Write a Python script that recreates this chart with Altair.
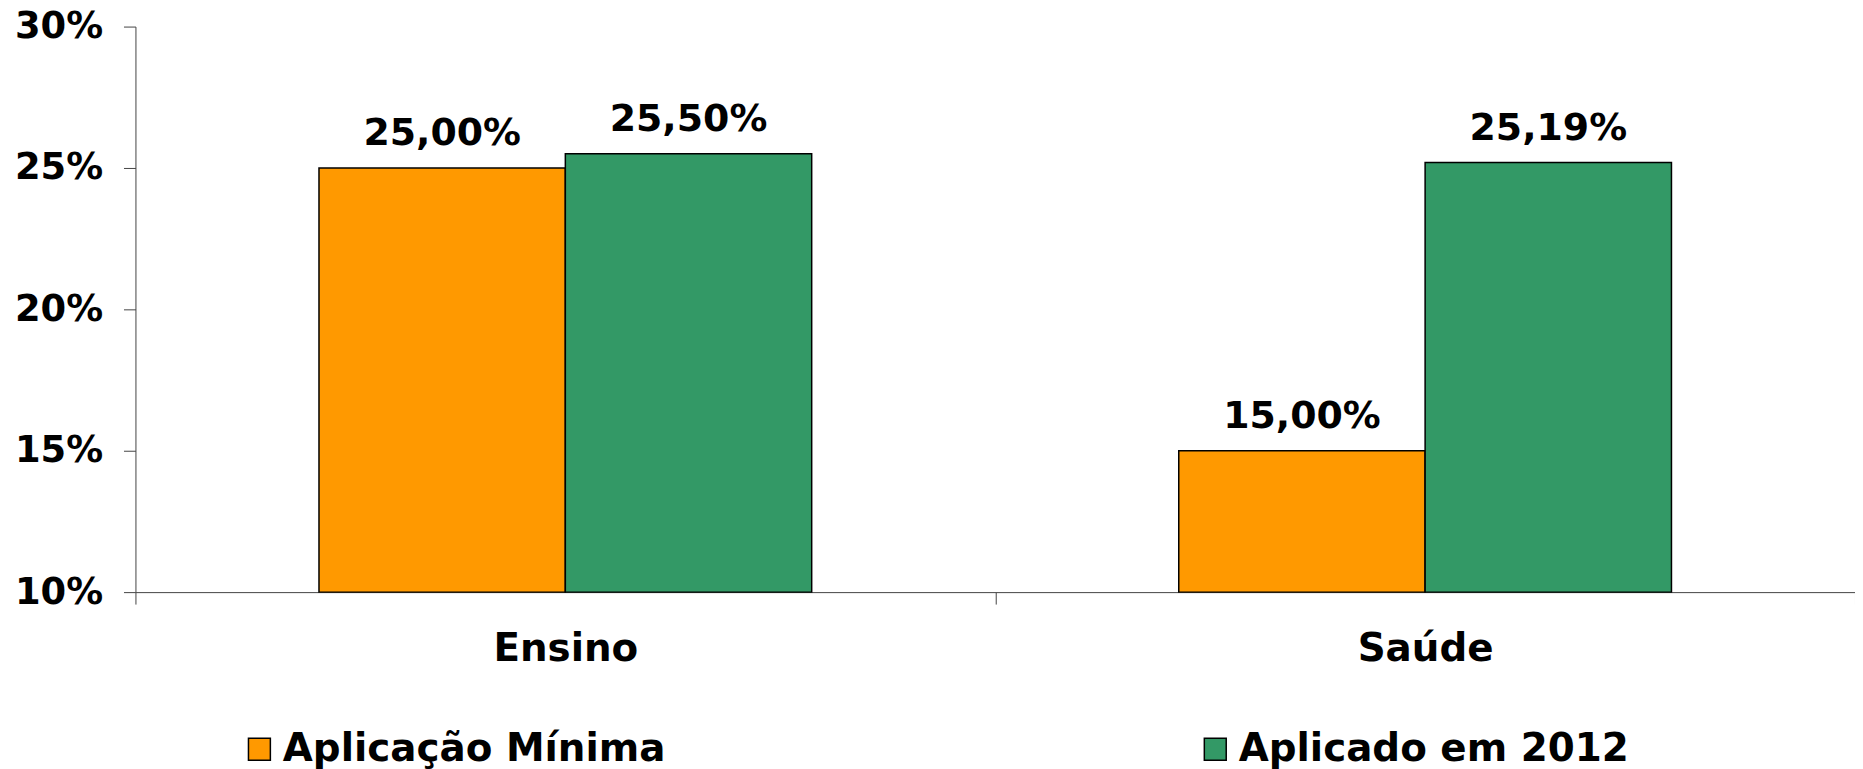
import altair as alt
import pandas as pd

categories = ["Ensino", "Saúde"]
series = ["Aplicação Mínima", "Aplicado em 2012"]
minimo = [0.25, 0.15]
aplicado = [0.255, 0.2519]
colors = ["#FF9900", "#339966"]

rows = []
for i, c in enumerate(categories):
    rows.append({"cat": c, "serie": series[0], "value": minimo[i]})
    rows.append({"cat": c, "serie": series[1], "value": aplicado[i]})
df = pd.DataFrame(rows)

FONT = "DejaVu Sans"

base = alt.Chart(df).transform_calculate(
    label="replace(format(datum.value, '.2%'), '.', ',')"
)

x = alt.X("cat:N", sort=categories, title=None,
          scale=alt.Scale(paddingInner=0, paddingOuter=0),
          axis=alt.Axis(labelAngle=0, tickBand="extent", tickSize=12,
                        labelPadding=26, labelFont=FONT, labelFontSize=39,
                        labelFontWeight="bold", labelColor="black",
                        domainColor="#444", tickColor="#444"))
xo = alt.XOffset("serie:N", sort=series,
                 scale=alt.Scale(paddingOuter=0.745, paddingInner=0))

bars = base.mark_bar(stroke="black", strokeWidth=1.5).encode(
    x=x, xOffset=xo,
    y=alt.Y("value:Q", title=None,
            scale=alt.Scale(domain=[0.10, 0.30], zero=False, nice=False),
            axis=alt.Axis(values=[0.10, 0.15, 0.20, 0.25, 0.30], format=".0%",
                          grid=False, tickSize=12, labelPadding=21,
                          labelFont=FONT, labelFontSize=37, labelFontWeight="bold",
                          labelColor="black", domainColor="#444", tickColor="#444")),
    y2=alt.datum(0.10),
    color=alt.Color("serie:N", sort=series,
                    scale=alt.Scale(domain=series, range=colors),
                    legend=alt.Legend(title=None, orient="none", legendX=105, legendY=706,
                                      direction="horizontal", columns=2, columnPadding=532,
                                      symbolType="square", symbolSize=484,
                                      symbolStrokeColor="black", symbolStrokeWidth=1.5,
                                      labelFont=FONT, labelFontSize=39, labelFontWeight="bold",
                                      labelColor="black", labelOffset=4, labelLimit=800)),
)

text = base.mark_text(font=FONT, fontSize=38, fontWeight="bold", color="black",
                      baseline="alphabetic", dy=-23).encode(
    x=alt.X("cat:N", sort=categories), xOffset=alt.XOffset("serie:N", sort=series),
    y=alt.Y("value:Q"),
    text="label:N",
)

chart = alt.layer(bars, text).properties(
    width=1727, height=568,
    autosize=alt.AutoSizeParams(type="none"),
    padding={"left": 128, "top": 17, "right": 0, "bottom": 180},
).configure_view(stroke=None)

chart.save("out.html", embed_options={"renderer": "svg", "actions": False})
